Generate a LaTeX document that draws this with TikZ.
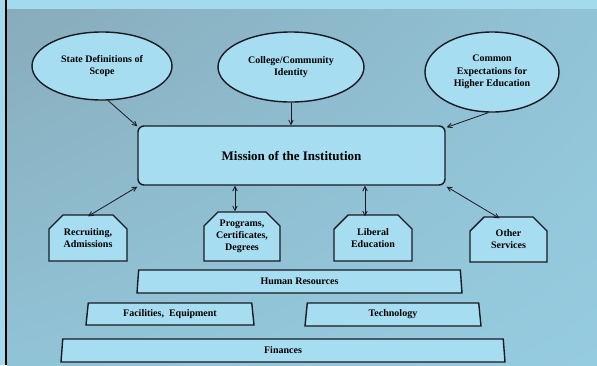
\documentclass[tikz,border=0pt]{standalone}
\usepackage{fontspec}
\setmainfont{Liberation Serif}
\usetikzlibrary{arrows.meta,positioning,calc,shapes.geometric,shapes.misc,shadings}
\definecolor{paneblue}{HTML}{A3DAEE}
\definecolor{shapeblue}{HTML}{A6DDF1}
\definecolor{bgdark}{HTML}{88ACBB}
\definecolor{bgmid}{HTML}{91C3D6}
\definecolor{bglight}{HTML}{96CCE0}
\definecolor{inkline}{HTML}{1A1A22}

\tikzset{
  goal/.style={ellipse, draw=inkline, line width=1.4pt, fill=shapeblue, inner sep=0pt,
    align=center, font=\fontsize{10}{12.5}\selectfont\bfseries},
  mission/.style={rectangle, rounded corners=6pt, draw=inkline, line width=1.4pt, fill=shapeblue,
    font=\fontsize{13}{15}\selectfont\bfseries},
  unit/.style={chamfered rectangle, chamfered rectangle corners={north west,north east},
    chamfered rectangle xsep=7pt, chamfered rectangle ysep=7pt,
    draw=inkline, line width=1.4pt, fill=shapeblue, inner sep=0pt,
    align=center, font=\fontsize{10}{12}\selectfont\bfseries},
  base/.style={trapezium, trapezium angle=76, trapezium stretches body, draw=inkline,
    line width=1.4pt, fill=shapeblue, inner sep=0pt, font=\fontsize{10}{11}\selectfont\bfseries},
  link/.style={-{Straight Barb[length=4.5pt,width=4.5pt]}, inkline, line width=0.8pt},
  both/.style={{Straight Barb[length=4.5pt,width=4.5pt]}-{Straight Barb[length=4.5pt,width=4.5pt]}, inkline, line width=0.8pt}
}

\begin{document}
\begin{tikzpicture}[x=1pt,y=-1pt]
\useasboundingbox (0,0) rectangle (597,365);
% page background
\fill[paneblue] (0,0) rectangle (597,365);
\shade[upper left=bgdark, upper right=bgmid, lower left=bgmid, lower right=bglight] (7,9) rectangle (597,365);
\draw[black, line width=1.6pt] (6,0) -- (6,365);

% influences
\node[goal, minimum width=140, minimum height=68] (scope) at (102,66) {State Definitions of\\Scope};
\node[goal, minimum width=146, minimum height=70] (identity) at (291,67) {College/Community\\Identity};
\node[goal, minimum width=134, minimum height=80] (expect) at (492,72) {Common\\Expectations for\\Higher Education};

\node[mission, minimum width=307, minimum height=59] (inst) at (291.5,155.5) {Mission of the Institution};

% programs and services
\node[unit, minimum width=78, minimum height=46] (recruit) at (88,238) {Recruiting,\\Admissions};
\node[unit, minimum width=76, minimum height=49] (progs) at (242,236.5) {Programs,\\Certificates,\\Degrees};
\node[unit, minimum width=78, minimum height=46] (liberal) at (373,238) {Liberal\\Education};
\node[unit, minimum width=77, minimum height=45] (other) at (508.5,239.5) {Other\\Services};

% resources
\node[base, minimum width=325, minimum height=23] (hr) at (299.5,281.5) {Human Resources};
\node[base, minimum width=168, minimum height=22] (facil) at (170,314) {Facilities,\ \ Equipment};
\node[base, minimum width=176, minimum height=23] (tech) at (393,314.5) {Technology};
\node[base, minimum width=444, minimum height=23] (fin) at (283,350.5) {Finances};

\draw[link] (scope.-80) -- ([shift={(0,1)}]inst.north west);
\draw[link] (identity.south) -- (identity.south |- inst.north);
\draw[link] (expect.-95) -- ([shift={(1,2)}]inst.north east);

\draw[both] ([shift={(0,1)}]inst.south west) -- ([yshift=-2pt]recruit.north);
\draw[both] ([xshift=-7pt]progs.north |- inst.south) -- ([xshift=-7pt]progs.north);
\draw[both] ([xshift=-8pt]liberal.north |- inst.south) -- ([xshift=-8pt,yshift=-2pt]liberal.north);
\draw[both] ([shift={(1,1)}]inst.south east) -- ([xshift=-9pt,yshift=-2pt]other.north);
\end{tikzpicture}
\end{document}
